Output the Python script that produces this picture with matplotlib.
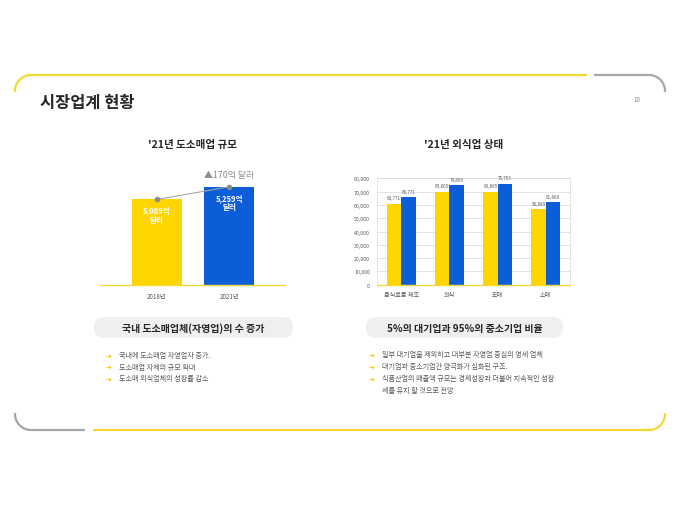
import numpy as np
import matplotlib.pyplot as plt
from matplotlib.patches import FancyBboxPatch

plt.rcParams['font.family'] = ['Noto Sans CJK KR', 'DejaVu Sans']

YELLOW = '#FFD500'
BLUE = '#0B5ED7'
GRAY = '#A6A6A6'
TEXT_DARK = '#262626'
TEXT_MID = '#595959'

# left chart: retail size
size_years = ['2018년', '2021년']
size_values = [5089, 5259]
size_labels = ['5,089억\n달러', '5,259억\n달러']
size_diff = '▲170억 달러'

# right chart: food service status
food_categories = ['음식료품 제조', '외식', '도매', '소매']
food_yellow = [60771, 69865, 69865, 56889]
food_blue = [65771, 74869, 75753, 61889]
food_yticks = np.arange(0, 80001, 10000)

left_title = "'21년 도소매업 규모"
right_title = "'21년 외식업 상태"
left_box = '국내 도소매업체(자영업)의 수 증가'
right_box = '5%의 대기업과 95%의 중소기업 비율'
left_bullets = ['국내에 도소매업 자영업자 증가.',
                '도소매업 자체의 규모 확대',
                '도소매 외식업체의 성장률 감소']
right_bullets = ['일부 대기업을 제외하고 대부분 자영업 중심의 영세 업체',
                 '대기업과 중소기업간 양극화가 심화된 구조.',
                 '식품산업의 매출액 규모는 경제성장과 더불어 지속적인 성장\n세를 유지 할 것으로 전망']

W, H = 680, 510
fig = plt.figure(figsize=(6.8, 5.1), dpi=100)

# background layer in pixel coordinates
bg = fig.add_axes([0, 0, 1, 1])
bg.set_xlim(0, W)
bg.set_ylim(H, 0)
bg.axis('off')


def arc(cx, cy, r, a0, a1):
    t = np.radians(np.linspace(a0, a1, 30))
    return cx + r * np.cos(t), cy - r * np.sin(t)


r = 16
# top frame
ax_, ay_ = arc(31, 92, r, 180, 90)
bg.plot(np.r_[15, ax_, 587], np.r_[93, ay_, 76], color='#F5D833', lw=1.6, solid_capstyle='butt')
ax_, ay_ = arc(649, 92, r, 90, 0)
bg.plot(np.r_[594, ax_, 665], np.r_[76, ay_, 93], color=GRAY, lw=1.6, solid_capstyle='butt')
# bottom frame
ax_, ay_ = arc(31, 415, r, 180, 270)
bg.plot(np.r_[15, ax_, 85], np.r_[414, ay_, 431], color=GRAY, lw=1.6, solid_capstyle='butt')
ax_, ay_ = arc(649, 415, r, 270, 360)
bg.plot(np.r_[93, ax_, 665], np.r_[431, ay_, 414], color='#F5D833', lw=1.6, solid_capstyle='butt')

bg.text(40, 103, '시장업계 현황', fontsize=11.8, fontweight='bold', color=TEXT_DARK, va='center')
bg.text(637, 100, '10', fontsize=4.5, color='#8C8C8C', ha='center', va='center')

bg.text(193, 145, left_title, fontsize=7.6, fontweight='bold', color=TEXT_DARK, ha='center', va='center')
bg.text(464, 145, right_title, fontsize=7.6, fontweight='bold', color=TEXT_DARK, ha='center', va='center')

# pill boxes
for x0, x1, label in [(94, 293, left_box), (366, 563, right_box)]:
    bg.add_patch(FancyBboxPatch((x0, 318), x1 - x0, 21,
                                boxstyle='round,pad=0,rounding_size=10.5',
                                fc='#EFEFEF', ec='none'))
    bg.text((x0 + x1) / 2, 329, label, fontsize=7.2, fontweight='bold',
            color=TEXT_DARK, ha='center', va='center')

# bullets
for i, line in enumerate(left_bullets):
    y = 356 + i * 11.7
    bg.text(109, y, '➔', fontsize=5, fontweight='bold', color='#F2C500', ha='center', va='center')
    bg.text(119, y, line, fontsize=5.1, color=TEXT_MID, va='center')

y = 355
for line in right_bullets:
    parts = line.split('\n')
    bg.text(372, y, '➔', fontsize=5, fontweight='bold', color='#F2C500', ha='center', va='center')
    for part in parts:
        bg.text(382, y, part, fontsize=5.1, color=TEXT_MID, va='center')
        y += 12

# left chart
axl = fig.add_axes([100 / W, 1 - 285.7 / H, 185 / W, (285.7 - 160) / H])
xl = np.arange(len(size_years))
axl.bar(xl, size_values, width=0.69, color=[YELLOW, BLUE], zorder=2)
axl.plot(xl, size_values, color=GRAY, lw=0.8, marker='o', ms=3,
         mfc='#8C8C8C', mec='#8C8C8C', zorder=3)
for x, v, lab in zip(xl, size_values, size_labels):
    axl.annotate(lab, (x, v), xytext=(0, -11), textcoords='offset points',
                 ha='center', va='center', fontsize=5.5, fontweight='bold',
                 color='white', linespacing=1.1, zorder=4)
axl.annotate(size_diff, (xl[1], size_values[1]), xytext=(0, 9),
             textcoords='offset points', ha='center', va='center',
             fontsize=6.4, color='#8C8C8C')
axl.set_xlim(-0.786, 1.766)
axl.set_ylim(3950, 5630)
axl.set_xticks(xl)
axl.set_xticklabels(size_years, fontsize=4.5, color=TEXT_MID)
axl.set_yticks([])
axl.tick_params(axis='x', length=0, pad=5)
for s in ['left', 'right', 'top']:
    axl.spines[s].set_visible(False)
axl.spines['bottom'].set_color('#F5D833')
axl.spines['bottom'].set_linewidth(1.0)
axl.patch.set_alpha(0)

# right chart
axr = fig.add_axes([377 / W, 1 - 285.7 / H, (570 - 377) / W, (285.7 - 179.3) / H])
xr = np.arange(len(food_categories))
bw = 0.3
axr.bar(xr - bw / 2, food_yellow, width=bw, color=YELLOW, zorder=2)
axr.bar(xr + bw / 2, food_blue, width=bw, color=BLUE, zorder=2)
for x, v in zip(xr - bw / 2, food_yellow):
    axr.annotate(f'{v:,}', (x, v), xytext=(0, 2.5), textcoords='offset points',
                 ha='center', va='bottom', fontsize=3.3, color=TEXT_MID)
for x, v in zip(xr + bw / 2, food_blue):
    axr.annotate(f'{v:,}', (x, v), xytext=(0, 2.5), textcoords='offset points',
                 ha='center', va='bottom', fontsize=3.3, color=TEXT_MID)
axr.set_xlim(-0.5, 3.5)
axr.set_ylim(0, 80000)
axr.set_yticks(food_yticks)
axr.set_yticklabels([f'{v:,}' for v in food_yticks], fontsize=3.8, color=TEXT_MID)
axr.set_xticks(xr)
axr.set_xticklabels(food_categories, fontsize=4.4, color=TEXT_MID)
axr.tick_params(axis='both', length=0)
axr.tick_params(axis='y', pad=5)
axr.tick_params(axis='x', pad=4)
axr.yaxis.grid(True, color='#D9D9D9', lw=0.5, zorder=0)
axr.set_axisbelow(True)
for s in ['left', 'right', 'top']:
    axr.spines[s].set_color('#D9D9D9')
    axr.spines[s].set_linewidth(0.5)
axr.spines['bottom'].set_color('#F5D833')
axr.spines['bottom'].set_linewidth(1.0)
axr.patch.set_alpha(0)

fig.savefig('out.png', dpi=100)
